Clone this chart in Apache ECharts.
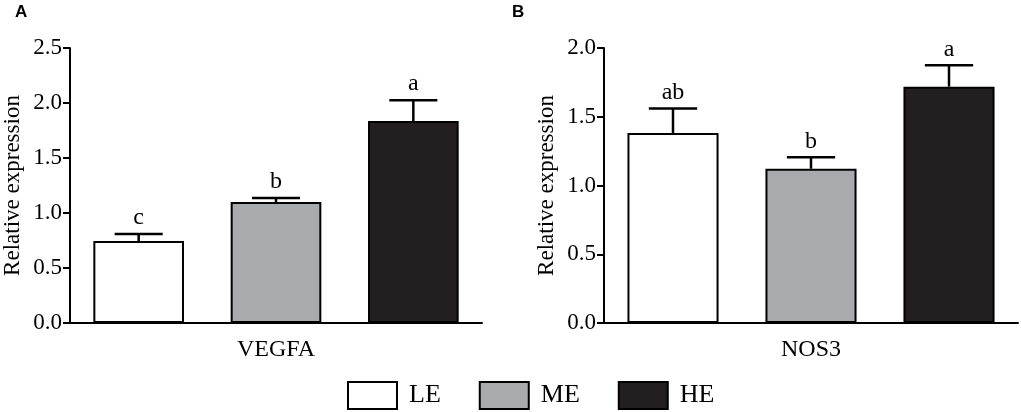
<!DOCTYPE html>
<html>
<head>
<meta charset="utf-8">
<title>VEGFA / NOS3 relative expression</title>
<script src="https://cdn.jsdelivr.net/npm/echarts@6.0.0/dist/echarts.min.js"></script>
<style>
  html, body { margin: 0; padding: 0; background: #fff; }
  #chart { width: 1021px; height: 412px; }
</style>
</head>
<body>
<div id="chart"></div>
<script>
// groups (legend + bar order)
var groups = ['LE', 'ME', 'HE'];
var groupColors = ['#ffffff', '#a9aaad', '#231f20'];

// panel A - VEGFA
var vegfaMean = [0.745, 1.10, 1.836];
var vegfaErr = [0.065, 0.036, 0.19];
var vegfaLetters = ['c', 'b', 'a'];
var vegfaTicks = [0, 0.5, 1.0, 1.5, 2.0, 2.5];

// panel B - NOS3
var nos3Mean = [1.382, 1.122, 1.719];
var nos3Err = [0.178, 0.083, 0.155];
var nos3Letters = ['ab', 'b', 'a'];
var nos3Ticks = [0, 0.5, 1.0, 1.5, 2.0];

var serif = "'Liberation Serif', 'Times New Roman', serif";
var sans = "'Liberation Sans', Arial, sans-serif";

var chart = echarts.init(document.getElementById('chart'));

function yAxisFor(gridIndex, ticks) {
	return {
		type: 'value',
		gridIndex: gridIndex,
		min: ticks[0],
		max: ticks[ticks.length - 1],
		interval: 0.5,
		name: 'Relative expression',
		nameLocation: 'middle',
		nameRotate: 90,
		nameGap: 46,
		nameTextStyle: { fontFamily: serif, fontSize: 23, color: '#000' },
		axisLine: { show: true, lineStyle: { color: '#000', width: 2 } },
		axisTick: { show: true, length: 7, lineStyle: { color: '#000', width: 2 } },
		axisLabel: {
			margin: 8, fontFamily: serif, fontSize: 23, color: '#000',
			formatter: function (v) { return v.toFixed(1); }
		},
		splitLine: { show: false }
	};
}

function xAxisFor(gridIndex, name) {
	return {
		type: 'category',
		gridIndex: gridIndex,
		data: groups,
		name: name,
		nameLocation: 'middle',
		nameGap: 15,
		nameTextStyle: { fontFamily: serif, fontSize: 24, color: '#000' },
		axisLine: { show: true, lineStyle: { color: '#000', width: 2 } },
		axisTick: { show: false },
		axisLabel: { show: false },
		splitLine: { show: false }
	};
}

// one stacked bar series per group so legend gets LE / ME / HE
function barSeries(axisIndex, means, stackName) {
	return groups.map(function (g, i) {
		var data = groups.map(function (_, j) { return j === i ? means[j] : '-'; });
		return {
			name: g,
			type: 'bar',
			xAxisIndex: axisIndex,
			yAxisIndex: axisIndex,
			stack: stackName,
			barWidth: '66%',
			itemStyle: { color: groupColors[i], borderColor: '#000', borderWidth: 2 },
			emphasis: { disabled: true },
			data: data
		};
	});
}

function errorSeries(axisIndex, means, errs, letters) {
	return {
		name: 'err' + axisIndex,
		type: 'custom',
		xAxisIndex: axisIndex,
		yAxisIndex: axisIndex,
		z: 5,
		silent: true,
		data: means.map(function (m, i) { return [i, m, errs[i]]; }),
		renderItem: function (params, api) {
			var ci = api.value(0), m = api.value(1), e = api.value(2);
			var base = api.coord([ci, m]);
			var top = api.coord([ci, m + e]);
			var half = api.size([1, 0])[0] * 0.175;
			var st = { stroke: '#000', lineWidth: 2.5 };
			return {
				type: 'group',
				children: [
					{ type: 'line', shape: { x1: base[0], y1: base[1], x2: top[0], y2: top[1] }, style: st },
					{ type: 'line', shape: { x1: top[0] - half, y1: top[1], x2: top[0] + half, y2: top[1] }, style: st },
					{
						type: 'text',
						style: {
							x: top[0], y: top[1] - 4,
							text: letters[params.dataIndex],
							align: 'center', verticalAlign: 'bottom',
							font: '24px ' + serif, fill: '#000'
						}
					}
				]
			};
		}
	};
}

var option = {
	backgroundColor: '#fff',
	animation: false,
	title: [
		{ text: 'A', left: 15, top: 4, padding: 0, textStyle: { fontFamily: sans, fontSize: 17, fontWeight: 'bold', color: '#000' } },
		{ text: 'B', left: 512, top: 4, padding: 0, textStyle: { fontFamily: sans, fontSize: 17, fontWeight: 'bold', color: '#000' } }
	],
	legend: {
		data: groups,
		left: 347,
		top: 381,
		padding: 0,
		itemWidth: 49,
		itemHeight: 27,
		itemGap: 38,
		icon: 'rect',
		itemStyle: { borderColor: '#000', borderWidth: 2 },
		textStyle: { fontFamily: serif, fontSize: 26, color: '#000', padding: [0, 0, 0, 7] },
		selectedMode: false
	},
	grid: [
		{ left: 68, top: 48, width: 414, height: 275 },
		{ left: 604, top: 48, width: 414, height: 275 }
	],
	xAxis: [xAxisFor(0, 'VEGFA'), xAxisFor(1, 'NOS3')],
	yAxis: [yAxisFor(0, vegfaTicks), yAxisFor(1, nos3Ticks)],
	series: []
		.concat(barSeries(0, vegfaMean, 'a'))
		.concat(barSeries(1, nos3Mean, 'b'))
		.concat([errorSeries(0, vegfaMean, vegfaErr, vegfaLetters), errorSeries(1, nos3Mean, nos3Err, nos3Letters)])
};

chart.setOption(option);
</script>
</body>
</html>
